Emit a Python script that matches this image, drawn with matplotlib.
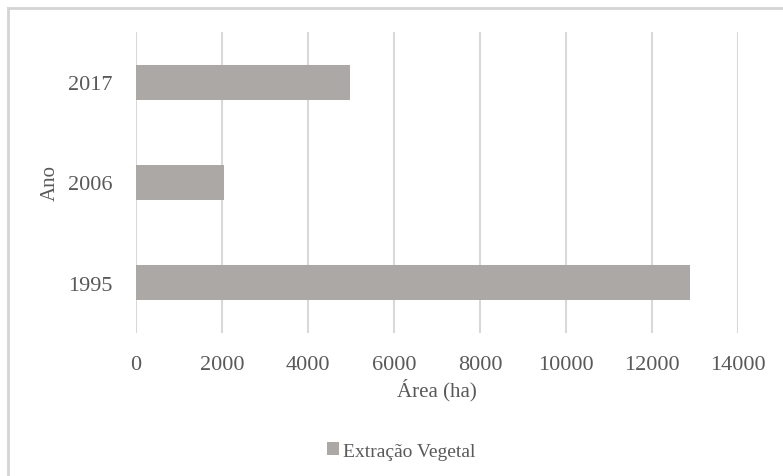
import matplotlib
matplotlib.use("Agg")
import matplotlib.pyplot as plt
from matplotlib.lines import Line2D
from matplotlib.patches import Patch

# Area by year (ha)
anos = ["1995", "2006", "2017"]
area = [12880, 2040, 4970]
xticks = [0, 2000, 4000, 6000, 8000, 10000, 12000, 14000]
serie = "Extração Vegetal"

bar_color = "#aca8a6"
text_color = "#595959"
grid_color = "#d9d9d9"

plt.rcParams["font.family"] = ["Liberation Serif", "DejaVu Serif"]

fig = plt.figure(figsize=(7.83, 4.77), dpi=100)
ax = fig.add_axes([136 / 783, 1 - 334 / 477, 602 / 783, 301 / 477])

pos = range(len(anos))
ax.barh(pos, area, height=0.35, color=bar_color, zorder=2)

ax.set_xlim(0, 14000)
ax.set_ylim(-0.5, len(anos) - 0.5)
ax.set_xticks(xticks)
ax.set_xticklabels([str(v) for v in xticks])
ax.set_yticks(list(pos))
ax.set_yticklabels(anos)

ax.grid(axis="x", color=grid_color, linewidth=1.5, zorder=0)
for s in ax.spines.values():
    s.set_visible(False)
ax.tick_params(axis="both", length=0, labelsize=16, colors=text_color)
ax.tick_params(axis="x", pad=16)
ax.tick_params(axis="y", pad=17)

ax.set_xlabel("Área (ha)", fontsize=15, color=text_color, labelpad=3)
ax.set_ylabel("Ano", fontsize=15, color=text_color, labelpad=6)

handles = [Patch(facecolor=bar_color, edgecolor="none", label=serie)]
fig.legend(handles=handles, loc="center", bbox_to_anchor=(401 / 783, 1 - 452 / 477),
           frameon=False, fontsize=14, labelcolor=text_color,
           handlelength=0.6, handleheight=0.6, handletextpad=0.2)

# chart area border (only left and top visible in the crop)
bx, by = 8 / 783, 1 - 9 / 477
fig.add_artist(Line2D([bx, bx], [0, by], transform=fig.transFigure,
                      color="#d4d4d4", linewidth=2))
fig.add_artist(Line2D([bx, 1], [by, by], transform=fig.transFigure,
                      color="#d4d4d4", linewidth=2))

fig.savefig("out.png", dpi=100)
